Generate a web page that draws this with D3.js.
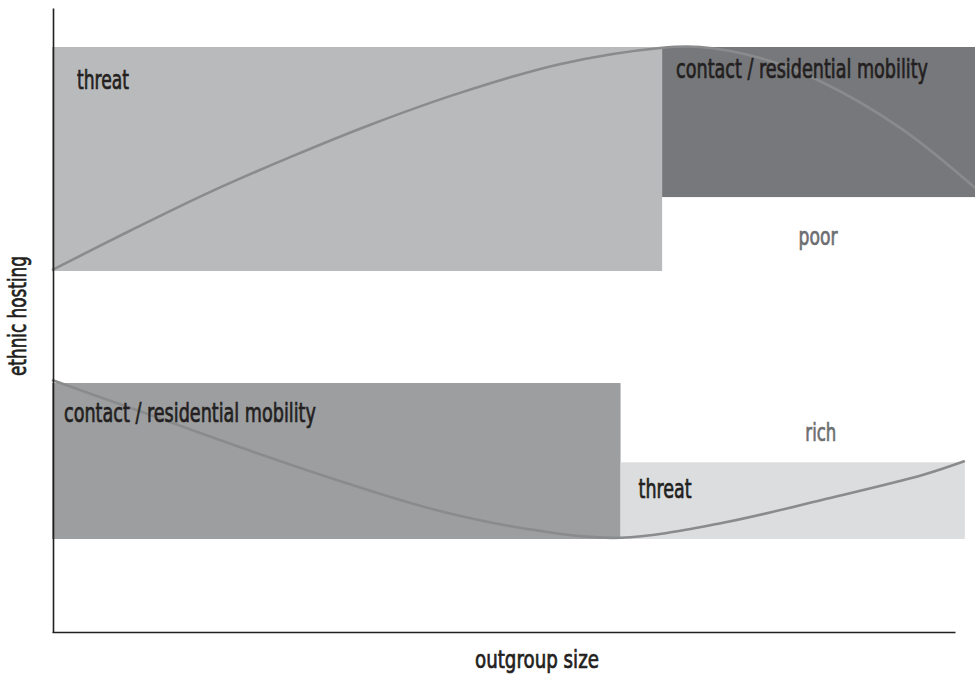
<!DOCTYPE html>
<html>
<head>
<meta charset="utf-8">
<script src="https://cdn.jsdelivr.net/npm/d3@7"></script>
<style>
  html, body { margin: 0; padding: 0; background: #fff; }
  text { font-family: "DejaVu Sans Condensed", "Liberation Sans Narrow", "DejaVu Sans", sans-serif; font-stretch: condensed; font-weight: normal; }
</style>
</head>
<body>
<svg id="chart" width="975" height="676"></svg>
<script>
// ---- data (x: outgroup size, y: ethnic hosting; both 0..100) ----
const regionGroups = ["poor", "poor", "rich", "rich"];
const regionLabels = ["threat", "contact / residential mobility", "contact / residential mobility", "threat"];
const regionX0 = [0, 66.1, 0, 61.6];
const regionX1 = [66.1, 100, 61.6, 98.9];
const regionY0 = [57.85, 69.7, 14.9, 14.9];
const regionY1 = [93.75, 93.75, 39.9, 27.2];
const regionFills = ["#b9babc", "#77787b", "#9d9ea0", "#dcdddf"];

const poorX = [0, 8.45, 17.1, 25.8, 34.5, 44.2, 55.0, 65.9, 70.2, 76.7, 82.9, 91.9, 100];
const poorY = [58.0, 64.3, 70.5, 76.1, 81.3, 86.4, 91.0, 93.6, 93.75, 92.0, 88.5, 80.8, 71.2];
const richX = [0, 10.6, 20.4, 31.2, 42.0, 52.9, 61.6, 72.7, 83.5, 94.4, 98.9];
const richY = [40.4, 34.8, 29.6, 24.2, 19.4, 16.2, 15.1, 17.5, 21.2, 25.2, 27.4];

const groupNames = ["poor", "rich"];
const groupLabelX = [83.0, 83.3];
const groupLabelY = [62.0, 30.6];
const xTitle = "outgroup size";
const yTitle = "ethnic hosting";

const regions = regionLabels.map((label, i) => ({
  group: regionGroups[i], label, x0: regionX0[i], x1: regionX1[i],
  y0: regionY0[i], y1: regionY1[i], fill: regionFills[i]
}));

// ---- scales ----
const svg = d3.select("#chart");
const x = d3.scaleLinear().domain([0, 100]).range([52, 975]);
const y = d3.scaleLinear().domain([0, 100]).range([632, 8]);

// condensed text helper: draws text at (px,py) squeezed horizontally to width w
function condensedText(parent, str, px, py, w, size, fill, rotate) {
  const g = parent.append("g");
  const t = g.append("text").attr("font-size", size).attr("fill", fill)
    .attr("stroke", fill).attr("stroke-width", 0.7).attr("paint-order", "stroke")
    .text(str);
  const natural = t.node().getComputedTextLength();
  const sx = w / natural;
  g.attr("transform", `translate(${px},${py})` + (rotate ? ` rotate(${rotate})` : "") + ` scale(${sx},1)`);
  return g;
}

// regions
svg.selectAll("rect.region").data(regions).enter().append("rect")
  .attr("class", "region")
  .attr("x", d => x(d.x0)).attr("width", d => x(d.x1) - x(d.x0))
  .attr("y", d => y(d.y1)).attr("height", d => y(d.y0) - y(d.y1))
  .attr("fill", d => d.fill);

// curves
const line = d3.line().x(d => x(d[0])).y(d => y(d[1])).curve(d3.curveCatmullRom.alpha(0.5));
[[poorX, poorY], [richX, richY]].forEach(([xs, ys]) => {
  svg.append("path")
    .datum(xs.map((v, i) => [v, ys[i]]))
    .attr("d", line)
    .attr("fill", "none")
    .attr("stroke", "#8a8b8d")
    .attr("stroke-width", 2.6);
});

// region labels (offsets from each region's top-left, widths to mimic condensed face)
const labelStyle = [
  { dx: 25, dy: 42, w: 52 },
  { dx: 14, dy: 31, w: 252 },
  { dx: 12, dy: 39, w: 252 },
  { dx: 18, dy: 36, w: 53 }
];
regions.forEach((d, i) => {
  condensedText(svg, d.label, x(d.x0) + labelStyle[i].dx, y(d.y1) + labelStyle[i].dy,
    labelStyle[i].w, 26, "#231f20");
});

// group labels
const groupW = [39, 31];
groupNames.forEach((d, i) => {
  condensedText(svg, d, x(groupLabelX[i]) - groupW[i] / 2, y(groupLabelY[i]), groupW[i], 25, "#6d6e71");
});

// axes (plain lines, no ticks)
const xAxisScale = x.copy().domain([0, 97.8]).range([52, 955]);
svg.append("g").attr("transform", `translate(0,${y(0)})`)
  .call(d3.axisBottom(xAxisScale).tickValues([]).tickSizeOuter(0));
svg.append("g").attr("transform", `translate(${x(0) + 1},0)`)
  .call(d3.axisLeft(y).tickValues([]).tickSizeOuter(0));
svg.selectAll(".domain").attr("stroke", "#231f20").attr("stroke-width", 1.6);

// axis titles
condensedText(svg, xTitle, 475, 668, 124, 25, "#231f20");
condensedText(svg, yTitle, 26, 376, 120, 25, "#231f20", -90);
</script>
</body>
</html>
